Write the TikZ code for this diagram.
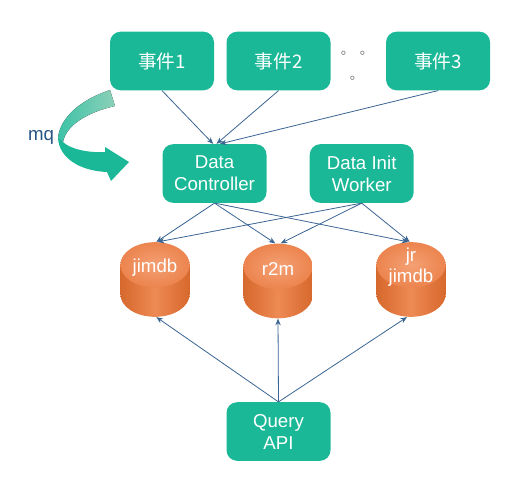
\documentclass[tikz,border=0pt]{standalone}
\usepackage{fontspec}
\setmainfont{Liberation Sans}
\newfontfamily\cjk{Noto Sans CJK SC}
\usetikzlibrary{positioning,arrows.meta}
\definecolor{boxteal}{RGB}{27,184,151}
\definecolor{linkblue}{RGB}{58,100,146}
\definecolor{dbedge}{RGB}{214,104,44}
\definecolor{dbmid}{RGB}{238,138,84}
\definecolor{dbtop}{RGB}{236,132,78}
\definecolor{dbtopin}{RGB}{244,160,116}
\definecolor{mqlight}{RGB}{140,208,184}
\definecolor{mqtext}{RGB}{40,84,130}

\tikzset{
  box/.style={fill=boxteal, text=white, rounded corners=8pt,
    minimum width=78pt, minimum height=44pt, align=center,
    font=\fontsize{14}{16.5}\selectfont},
  db/.style={minimum width=52pt, minimum height=56pt, inner sep=0pt,
    path picture={
      \begin{scope}[shift={(path picture bounding box.center)}]
        \shade[left color=dbedge, right color=dbedge, middle color=dbmid]
          (-26pt,11pt) -- (-26pt,-11pt)
          arc[start angle=180, end angle=360, x radius=26pt, y radius=17pt]
          -- (26pt,11pt) -- cycle;
        \shade[inner color=dbtopin, outer color=dbtop]
          (0pt,11pt) ellipse [x radius=26pt, y radius=17pt];
      \end{scope}
    }},
  dbtext/.style={text=white, font=\fontsize{14}{16}\selectfont, align=center},
  link/.style={->, draw=linkblue, line width=0.6pt}
}

\begin{document}
\begin{tikzpicture}[x=0.75pt, y=-0.75pt,
      >={Stealth[length=5pt,width=4pt]}
      ]
      \useasboundingbox (0,0) rectangle (517,481);

      \node[box] at (162,61)      (e1) {\cjk 事件1};
      \node[box, right=9pt of e1]  (e2) {\cjk 事件2};
      \node[box, right=41.25pt of e2] (e3) {\cjk 事件3};
      \node[box] at (214.5,173.5) (dc) {Data\\Controller};
      \node[box, right=32pt of dc] (diw) {Data Init\\Worker};

      \node[db, label={[dbtext, yshift=9pt]center:jimdb}] at (155,279.5) (jimdb) {};
      \node[db, label={[dbtext, yshift=9pt]center:r2m}] at (278,281) (r2m) {};
      \node[db, label={[dbtext, yshift=9pt]center:jr\\jimdb}] at (411,279.5) (jr) {};

      \node[box] at (278.5,431.5) (qa) {Query\\API};

      % dots between the events
      \node[text=black!55, font=\cjk\fontsize{10}{10}\selectfont] at (347.5,53) (dot1) {。};
      \node[text=black!55, font=\cjk\fontsize{10}{10}\selectfont] at (366.5,53) (dot2) {。};
      \node[text=black!55, font=\cjk\fontsize{10}{10}\selectfont] at (356.5,78) (dot3) {。};

      % mq arrow
      \fill[left color=boxteal!85, right color=mqlight]
        (110,90) .. controls (80,100) and (60,118) .. (58,138)
        -- (63,142) .. controls (66,125) and (88,112) .. (115,106) -- cycle;
      \fill[boxteal]
        (58,138) .. controls (59,158) and (80,171) .. (107,172)
        -- (111,181) -- (129,162) -- (105,147) -- (105,152)
        .. controls (88,153) and (70,149) .. (63,142) -- cycle;
      \node[text=mqtext, font=\fontsize{14}{14}\selectfont] at (41,137) (mq) {mq};

  % Connect the nodes
  \draw[link] (e1.south) -- ([xshift=-1pt]dc.north);
  \draw[link] (e2.south) -- ([xshift=1.5pt]dc.north);
  \draw[link] (e3.south) -- ([xshift=4pt]dc.north);
  \draw[link] (dc.south) -- ([xshift=1pt]jimdb.north);
  \draw[link] (dc.south) -- ([xshift=-2pt]r2m.north);
  \draw[link] (dc.south) -- ([xshift=-2pt]jr.north);
  \draw[link] (diw.south) -- ([xshift=2pt]jimdb.north);
  \draw[link] (diw.south) -- ([xshift=2pt]r2m.north);
  \draw[link] (diw.south) -- ([xshift=-1pt]jr.north);
  \draw[link] (qa.north) -- ([xshift=1pt]jimdb.south);
  \draw[link] (qa.north) -- (r2m.south);
  \draw[link] (qa.north) -- ([xshift=-3pt]jr.south);

\end{tikzpicture}
\end{document}
